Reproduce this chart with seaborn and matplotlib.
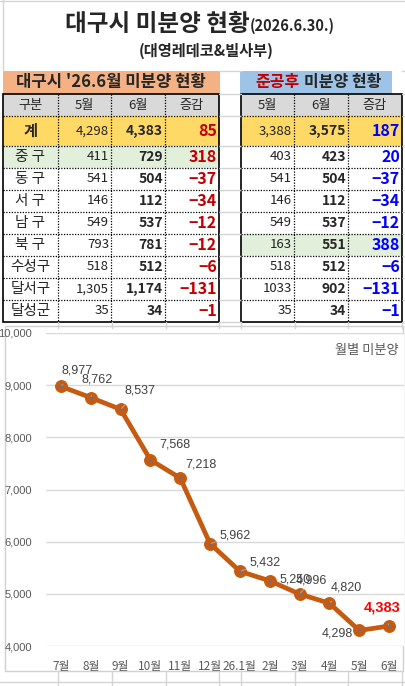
import matplotlib
matplotlib.use('Agg')
import pandas as pd
import matplotlib.pyplot as plt
import seaborn as sns
from matplotlib.patches import Rectangle

# ---- data ----
months = ['7월', '8월', '9월', '10월', '11월', '12월', '26.1월', '2월', '3월', '4월', '5월', '6월']
unsold = [8977, 8762, 8537, 7568, 7218, 5962, 5432, 5250, 4996, 4820, 4298, 4383]

districts = ['중 구', '동 구', '서 구', '남 구', '북 구', '수성구', '달서구', '달성군']
may_all = [411, 541, 146, 549, 793, 518, 1305, 35]
jun_all = [729, 504, 112, 537, 781, 512, 1174, 34]
diff_all = [318, -37, -34, -12, -12, -6, -131, -1]
total_all = [4298, 4383, 85]

may_done = [403, 541, 146, 549, 163, 518, 1033, 35]
jun_done = [423, 504, 112, 537, 551, 512, 902, 34]
diff_done = [20, -37, -34, -12, 388, -6, -131, -1]
total_done = [3388, 3575, 187]

# label offsets (pixels) and whether a leader line is drawn
label_off = [(16, 16), (6, 18), (19, 19), (24, 15), (21, 14), (25, 8),
             (25, 9), (25, 1), (12, 14), (17, 16), (-22, -3), (-7, 19)]
leader = [True, True, True, False, False, True, True, False, True, True, False, True]

sns.set_theme(style='white')
plt.rcParams['font.family'] = ['Noto Sans CJK KR', 'DejaVu Sans']

W, H = 406, 686
fig = plt.figure(figsize=(W / 100, H / 100), dpi=100)
fig.patch.set_facecolor('white')
bg = fig.add_axes([0, 0, 1, 1])
bg.set_xlim(0, W)
bg.set_ylim(H, 0)
bg.axis('off')

GRID = '#D4D4D4'
# faint sheet grid lines
for y in [71, 94, 116, 146, 168, 190, 212, 234, 256, 278, 300, 322]:
    bg.plot([219, 241], [y, y], color=GRID, lw=1)
    bg.plot([402, 406], [y, y], color=GRID, lw=1)
for x in [58, 112, 166, 219, 241, 295, 348, 402]:
    bg.plot([x, x], [671, 686], color=GRID, lw=1)
    bg.plot([x, x], [322, 328], color=GRID, lw=1)
bg.plot([0, W], [682, 682], color=GRID, lw=1)
bg.plot([0, W], [1, 1], color=GRID, lw=1)
bg.plot([3, 3], [0, 71], color=GRID, lw=1)

# title
bg.text(250, 31, '대구시 미분양 현황', ha='right', va='baseline', fontsize=17, weight='bold')
bg.text(250, 31, '(2026.6.30.)', ha='left', va='baseline', fontsize=10.5, weight='bold')
bg.text(206, 51, '(대영레데코&빌사부)', ha='center', va='center', fontsize=11, weight='bold')

# header bands
bg.add_patch(Rectangle((3, 71), 217, 23, color='#F4B183', lw=0))
bg.add_patch(Rectangle((240, 71), 152, 23, color='#9DC3E6', lw=0))
bg.text(111, 82, "대구시 '26.6월 미분양 현황", ha='center', va='center', fontsize=12, weight='bold')
bg.text(300, 82, '준공후', ha='right', va='center', fontsize=11.5, weight='bold', color='#C00000')
bg.text(304, 82, '미분양 현황', ha='left', va='center', fontsize=11.5, weight='bold')

row_edges = [94, 116, 146] + [146 + 22 * (k + 1) for k in range(len(districts))]


def fmt(v, comma=True):
    s = f'{abs(v):,}' if comma else f'{abs(v)}'
    return ('−' if v < 0 else '') + s


def draw_table(x_edges, heads, may, jun, diff, total, diff_color, green_row, with_name, comma_may):
    x0, x1 = x_edges[0], x_edges[-1]
    # fills
    bg.add_patch(Rectangle((x0, 94), x1 - x0, 22, color='#D9D9D9', lw=0))
    bg.add_patch(Rectangle((x0, 116), x1 - x0, 30, color='#FFD966', lw=0))
    bg.add_patch(Rectangle((x0, row_edges[2 + green_row]), x1 - x0, 22, color='#E2EFDA', lw=0))
    # inner dotted lines
    for x in x_edges[1:-1]:
        bg.plot([x, x], [94, 322], color='black', lw=0.9, ls=(0, (1, 1.2)))
    for y in row_edges[1:-1]:
        bg.plot([x0, x1], [y, y], color='black', lw=0.9, ls=(0, (1, 1.2)))
    bg.add_patch(Rectangle((x0, 94), x1 - x0, 228, fill=False, ec='black', lw=1.2))
    # header texts
    for k, h in enumerate(heads):
        bg.text((x_edges[k] + x_edges[k + 1]) / 2, 105, h, ha='center', va='center', fontsize=9.5)
    off = 1 if with_name else 0
    if with_name:
        bg.text((x_edges[0] + x_edges[1]) / 2, 131, '계', ha='center', va='center', fontsize=11, weight='bold')
        for k, name in enumerate(districts):
            bg.text((x_edges[0] + x_edges[1]) / 2, row_edges[2 + k] + 11, name,
                    ha='center', va='center', fontsize=10.5)
    rows = [(total[0], total[1], total[2], 131, True)]
    rows += [(may[k], jun[k], diff[k], row_edges[2 + k] + 11, comma_may) for k in range(len(districts))]
    for m, j, d, yc, cm in rows:
        bg.text(x_edges[off + 1] - 2, yc, fmt(m, cm), ha='right', va='center', fontsize=9.5, color='#222222')
        bg.text(x_edges[off + 2] - 2, yc, fmt(j), ha='right', va='center', fontsize=10, weight='bold')
        bg.text(x_edges[off + 3] - 2, yc, fmt(d), ha='right', va='center', fontsize=11.5,
                weight='bold', color=diff_color)


draw_table([3, 58, 111, 165, 219], ['구분', '5월', '6월', '증감'],
           may_all, jun_all, diff_all, total_all, '#C00000', 0, True, True)
draw_table([241, 294, 348, 402], ['5월', '6월', '증감'],
           may_done, jun_done, diff_done, total_done, '#0000FF', 4, False, False)

# chart frame
bg.add_patch(Rectangle((5, 326), 398, 345, facecolor='white', ec='#D0D0D0', lw=1))

ax = fig.add_axes([46 / W, (H - 646) / H, (404 - 46) / W, (646 - 333) / H])
ax.set_facecolor('white')
df = pd.DataFrame({'month': months, 'unsold': unsold})
sns.lineplot(data=df, x='month', y='unsold', sort=False, ax=ax, color='#C55A11', lw=3.4,
             marker='o', markersize=8.5, markeredgecolor='#C55A11', markerfacecolor='#C55A11', zorder=3)
sns.scatterplot(data=df, x='month', y='unsold', ax=ax, color='#4472C4', s=3, lw=0, zorder=4)
ax.set_xlim(-0.5, 11.5)
ax.set_ylim(4000, 10000)
ax.set_yticks(range(4000, 10001, 1000))
ax.set_yticklabels([f'{v:,}' for v in range(4000, 10001, 1000)], fontsize=8, color='#595959',
                   family=['Liberation Sans', 'DejaVu Sans'])
ax.tick_params(axis='x', labelsize=8.5, colors='#595959', pad=10, length=0)
ax.tick_params(axis='y', pad=10, length=0)
ax.set_xlabel('')
ax.set_ylabel('')
ax.grid(axis='y', color='#D9D9D9', lw=1)
ax.grid(axis='x', visible=False)
for s in ax.spines.values():
    s.set_visible(False)

for i, (m, v) in enumerate(zip(months, unsold)):
    last = i == len(unsold) - 1
    arrow = dict(arrowstyle='-', color='#A6A6A6', lw=0.8, shrinkA=5, shrinkB=1) if leader[i] else None
    ax.annotate(f'{v:,}', xy=(m, v), xytext=label_off[i], textcoords='offset pixels',
                ha='center', va='center', fontsize=10.5 if last else 9,
                weight='bold' if last else 'normal', color='#FF0000' if last else '#404040',
                family=['Liberation Sans', 'DejaVu Sans'], arrowprops=arrow, zorder=5)

ax.text(0.985, 0.945, '월별 미분양', transform=ax.transAxes, ha='right', va='center',
        fontsize=9.5, color='#595959')

fig.savefig('out.png', dpi=100, facecolor='white')
